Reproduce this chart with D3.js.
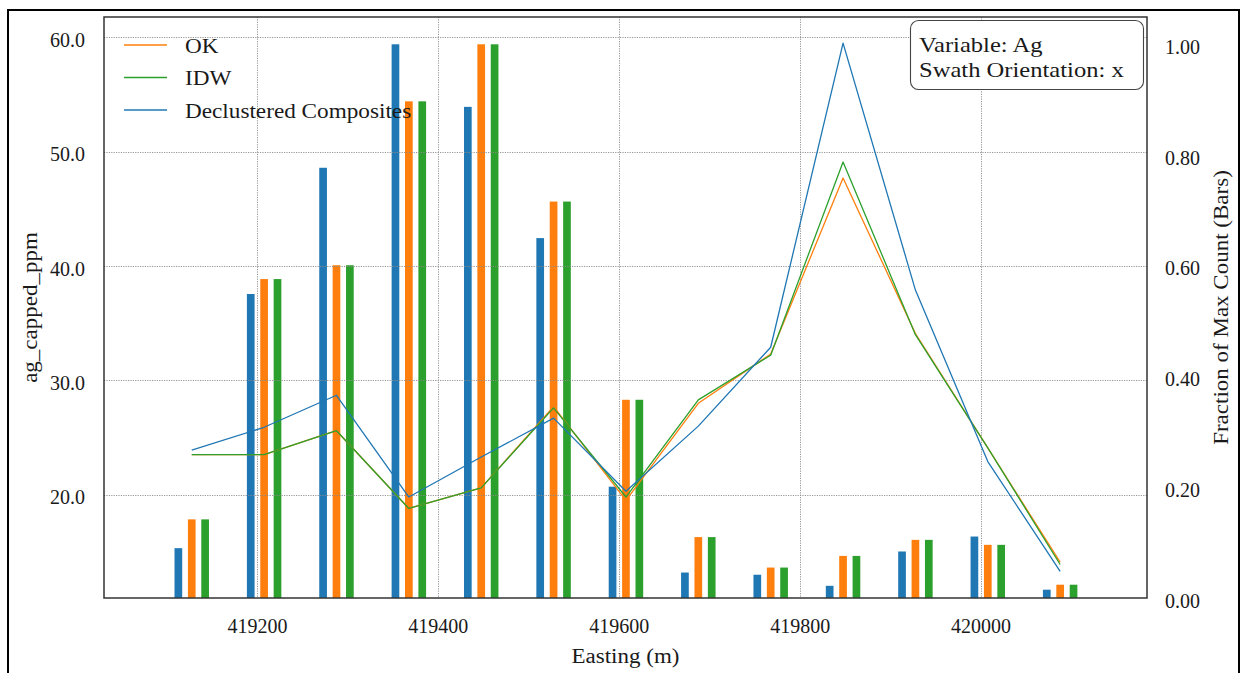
<!DOCTYPE html>
<html>
<head>
<meta charset="utf-8">
<script src="https://cdn.jsdelivr.net/npm/d3@7/dist/d3.min.js"></script>
<style>
  html, body { margin: 0; padding: 0; background: #ffffff; }
  svg { display: block; }
  text { font-family: "Liberation Serif", "DejaVu Serif", serif; fill: #1a1a1a; }
</style>
</head>
<body>
<svg id="chart" width="1243" height="673"></svg>
<script>
// ---------------- data ----------------
const easting = [419128, 419208, 419288, 419368, 419448, 419528, 419608, 419688, 419768, 419848, 419928, 420008, 420088];

// grade profiles (left axis, ag_capped_ppm)
const okGrade   = [23.5, 23.5, 25.6, 18.8, 20.6, 27.7, 19.5, 28.0, 32.3, 47.7, 34.1, 24.1, 14.1];
const idwGrade  = [23.5, 23.5, 25.6, 18.8, 20.6, 27.6, 19.8, 28.3, 32.2, 49.1, 34.0, 24.1, 13.9];
const declGrade = [23.9, 25.9, 28.7, 19.8, 23.3, 26.7, 20.3, 26.0, 32.9, 59.5, 37.9, 22.9, 13.3];

// counts as fraction of max (right axis, bars)
const declFrac = [0.090, 0.549, 0.777, 1.000, 0.887, 0.650, 0.201, 0.046, 0.042, 0.022, 0.084, 0.111, 0.015];
const okFrac   = [0.142, 0.576, 0.601, 0.897, 1.000, 0.716, 0.358, 0.110, 0.055, 0.076, 0.105, 0.096, 0.024];
const idwFrac  = [0.142, 0.576, 0.601, 0.897, 1.000, 0.716, 0.358, 0.110, 0.055, 0.076, 0.105, 0.096, 0.024];

const xTicks = [419200, 419400, 419600, 419800, 420000];
const yLeftTicks = [20, 30, 40, 50, 60];
const yRightTicks = [0, 0.2, 0.4, 0.6, 0.8, 1.0];

const seriesNames = ["OK", "IDW", "Declustered Composites"];
const annotationLines = ["Variable: Ag", "Swath Orientation: x"];

// ---------------- layout ----------------
const C = { blue: "#1f77b4", orange: "#ff7f0e", green: "#2ca02c" };
const plot = { left: 104, right: 1147, top: 17, bottom: 598 };
const svg = d3.select("#chart");

const x = d3.scaleLinear().domain([419031, 420184]).range([plot.left, plot.right]);
const yL = d3.scaleLinear().domain([10.97, 61.78]).range([plot.bottom, plot.top]);
const yR = d3.scaleLinear().domain([0, 1.0493]).range([plot.bottom, plot.top]);

const barW = 8.5;     // metres
const barOff = 14.8;  // metres between bar centres

function stretch(sel, k) {
  sel.each(function () {
    const L = this.getComputedTextLength();
    d3.select(this).attr("textLength", L * k).attr("lengthAdjust", "spacingAndGlyphs");
  });
}

svg.append("rect").attr("width", 1243).attr("height", 673).attr("fill", "#fff");
// outer frame
svg.append("rect").attr("x", 8).attr("y", 10).attr("width", 1231).attr("height", 720)
  .attr("fill", "none").attr("stroke", "#000").attr("stroke-width", 2);

// ---------------- bars ----------------
const barSeries = [
  { vals: declFrac, color: C.blue, off: -barOff },
  { vals: okFrac, color: C.orange, off: 0 },
  { vals: idwFrac, color: C.green, off: barOff }
];
const gBars = svg.append("g");
barSeries.forEach(s => {
  gBars.selectAll(null).data(easting).enter().append("rect")
    .attr("x", (d) => x(d + s.off - barW / 2))
    .attr("width", x(barW) - x(0))
    .attr("y", (d, i) => yR(s.vals[i]))
    .attr("height", (d, i) => yR(0) - yR(s.vals[i]))
    .attr("fill", s.color);
});

// ---------------- grid ----------------
const gGrid = svg.append("g").attr("stroke", "#8a8a8a").attr("stroke-width", 0.9)
  .attr("stroke-dasharray", "1.2,1.2");
gGrid.selectAll(null).data(xTicks).enter().append("line")
  .attr("x1", d => Math.round(x(d)) + 0.5).attr("x2", d => Math.round(x(d)) + 0.5)
  .attr("y1", plot.top).attr("y2", plot.bottom);
gGrid.selectAll(null).data(yLeftTicks).enter().append("line")
  .attr("y1", d => Math.round(yL(d)) + 0.5).attr("y2", d => Math.round(yL(d)) + 0.5)
  .attr("x1", plot.left).attr("x2", plot.right);

// ---------------- lines ----------------
const lineGen = d3.line().x((d, i) => x(easting[i])).y(d => yL(d));
const lineSeries = [
  { vals: okGrade, color: C.orange },
  { vals: idwGrade, color: C.green },
  { vals: declGrade, color: C.blue }
];
lineSeries.forEach(s => {
  svg.append("path").datum(s.vals).attr("d", lineGen)
    .attr("fill", "none").attr("stroke", s.color).attr("stroke-width", 1.3)
    .attr("stroke-linejoin", "round");
});

// ---------------- spines ----------------
svg.append("rect").attr("x", plot.left).attr("y", plot.top)
  .attr("width", plot.right - plot.left).attr("height", plot.bottom - plot.top)
  .attr("fill", "none").attr("stroke", "#333").attr("stroke-width", 1.5);

// ---------------- axes ----------------
const axL = svg.append("g").attr("transform", `translate(${plot.left},0)`)
  .call(d3.axisLeft(yL).tickValues(yLeftTicks).tickFormat(d3.format(".1f")).tickSize(0).tickPadding(19));
const axR = svg.append("g").attr("transform", `translate(${plot.right},0)`)
  .call(d3.axisRight(yR).tickValues(yRightTicks).tickFormat(d3.format(".2f")).tickSize(0).tickPadding(18));
const axB = svg.append("g").attr("transform", `translate(0,${plot.bottom})`)
  .call(d3.axisBottom(x).tickValues(xTicks).tickFormat(d3.format("d")).tickSize(0));
[axL, axR, axB].forEach(a => {
  a.select(".domain").remove();
  a.selectAll("text").attr("font-size", 20).attr("font-family", "Liberation Serif, serif").attr("fill", "#1a1a1a");
});
axL.selectAll("text").attr("dy", 9);
axR.selectAll("text").attr("dy", 9);
axB.selectAll("text").attr("y", 35).attr("dy", 0);

// axis titles
const tB = svg.append("text").attr("x", (plot.left + plot.right) / 2).attr("y", 663)
  .attr("text-anchor", "middle").attr("font-size", 20).text("Easting (m)");
const tL = svg.append("text").attr("transform", `translate(37,${(plot.top + plot.bottom) / 2}) rotate(-90)`)
  .attr("text-anchor", "middle").attr("font-size", 20).text("ag_capped_ppm");
const tR = svg.append("text").attr("transform", `translate(1228,${(plot.top + plot.bottom) / 2}) rotate(-90)`)
  .attr("text-anchor", "middle").attr("font-size", 20).text("Fraction of Max Count (Bars)");
stretch(tB, 1.15); stretch(tL, 1.15); stretch(tR, 1.15);

// ---------------- legend ----------------
const legColors = [C.orange, C.green, C.blue];
const leg = svg.append("g");
seriesNames.forEach((n, i) => {
  const yy = 45 + i * 32.5;
  leg.append("line").attr("x1", 124).attr("x2", 167).attr("y1", yy).attr("y2", yy)
    .attr("stroke", legColors[i]).attr("stroke-width", 1.5);
  const t = leg.append("text").attr("x", 185).attr("y", yy + 7.5).attr("font-size", 20).text(n);
  stretch(t, 1.16);
});

// ---------------- annotation box ----------------
svg.append("rect").attr("x", 910.5).attr("y", 20.5).attr("width", 233).attr("height", 69)
  .attr("rx", 8).attr("ry", 8).attr("fill", "#fff").attr("stroke", "#444").attr("stroke-width", 1.1);
annotationLines.forEach((s, i) => {
  const t = svg.append("text").attr("x", 919).attr("y", 52 + i * 25).attr("font-size", 21).text(s);
  stretch(t, 1.17);
});
</script>
</body>
</html>
